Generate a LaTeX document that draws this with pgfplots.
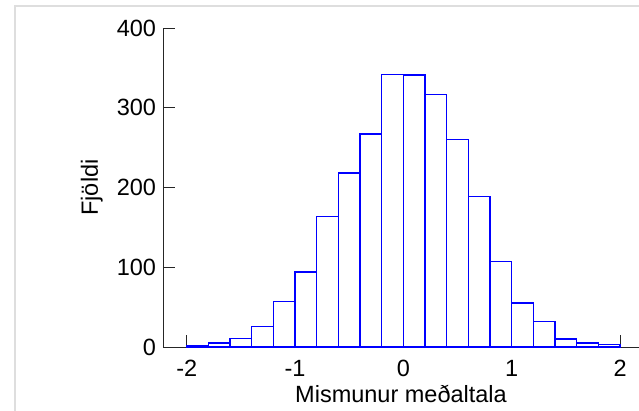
\documentclass[border=0pt]{standalone}
\usepackage{fontspec}
\setmainfont{Liberation Sans}
\usepackage{pgfplots}
\pgfplotsset{compat=1.18}

\definecolor{framegray}{RGB}{222,222,222}
\definecolor{barblue}{RGB}{0,0,255}

\begin{document}
\fontsize{23.5}{28}\selectfont
\begin{tikzpicture}
\begin{axis}[
    at={(163pt,63pt)}, anchor=south west,
    scale only axis,
    width=476pt, height=319pt,
    xmin=-2.219, xmax=2.175,
    ymin=0, ymax=400,
    axis x line=bottom, axis y line=left,
    axis line style={-, line width=0.9pt, black!85},
    every tick/.style={black!85, line width=0.9pt},
    tick align=inside,
    major tick length=12pt,
    xtick={-2,-1,0,1,2},
    ytick={0,100,200,300,400},
    xticklabel style={yshift=-5pt},
    yticklabel style={xshift=1pt},
    /pgf/number format/assume math mode=true,
    xlabel={Mismunur meðaltala},
    ylabel={Fjöldi},
    xlabel style={at={(axis description cs:0.5,-0.1746)}, anchor=base},
    ylabel style={at={(axis description cs:-0.1366,0.5)}, anchor=base},
]
\addplot[ybar interval, draw=barblue, fill=white, line width=1.3pt] coordinates {
    (-2.0,2) (-1.8,5) (-1.6,11) (-1.4,26) (-1.2,57)
    (-1.0,94) (-0.8,164) (-0.6,218) (-0.4,267) (-0.2,342)
    (0.0,341) (0.2,317) (0.4,260) (0.6,189) (0.8,107)
    (1.0,55) (1.2,32) (1.4,10) (1.6,5) (1.8,3) (2.0,3)
};
\end{axis}
\draw[framegray, line width=2.5pt] (15pt,-10pt) -- (15pt,404pt) -- (650pt,404pt);
\pgfresetboundingbox
\path[use as bounding box] (0,0) rectangle (639pt,410pt);
\end{tikzpicture}
\end{document}
